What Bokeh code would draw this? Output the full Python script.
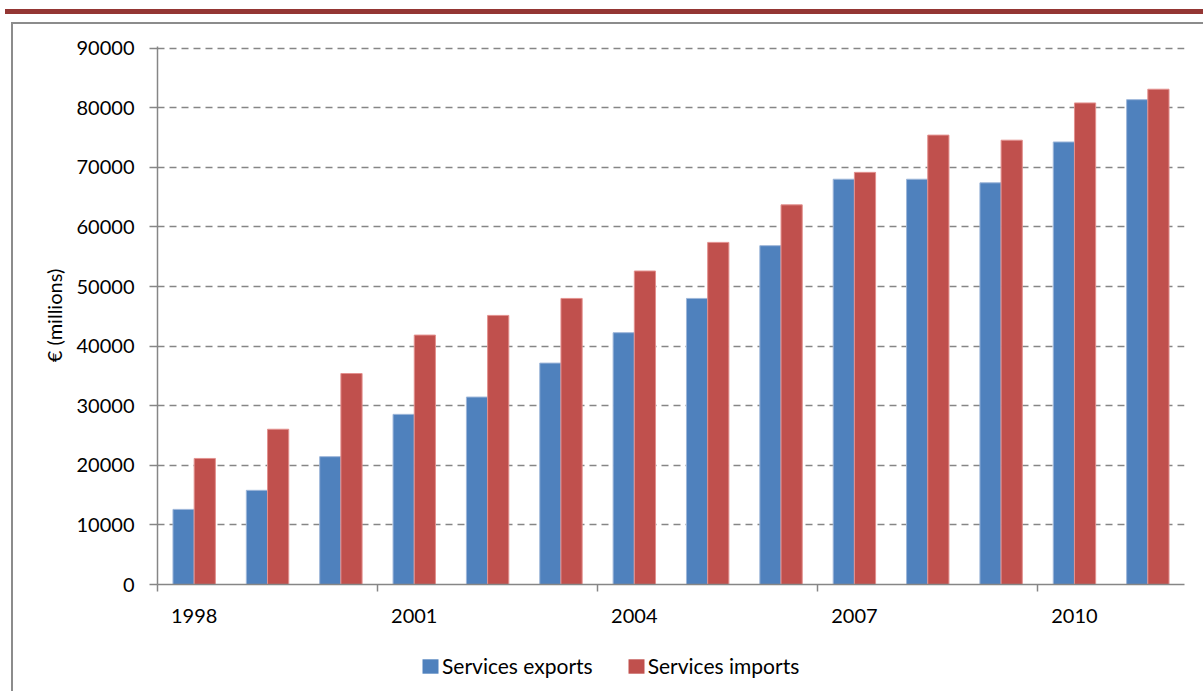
from bokeh.plotting import figure
from bokeh.models import (Range1d, FixedTicker, Legend, LegendItem, Div,
                          ColumnDataSource, NumeralTickFormatter)
from bokeh.layouts import column, row
from bokeh.embed import file_html
from bokeh.resources import INLINE

# ---- data ----
years = [1998, 1999, 2000, 2001, 2002, 2003, 2004, 2005, 2006, 2007, 2008, 2009, 2010, 2011]
exports = [12600, 15800, 21450, 28550, 31450, 37150, 42250, 48000, 56850, 68000, 68000, 67400, 74250, 81350]
imports = [21150, 26050, 35400, 41850, 45150, 48000, 52600, 57400, 63700, 69150, 75400, 74550, 80800, 83100]
series_names = ["Services exports", "Services imports"]
y_ticks = [0, 10000, 20000, 30000, 40000, 50000, 60000, 70000, 80000, 90000]
label_every = 3

FONT = "Lato"
GRAY = "#868686"
FRAME_GRAY = "#8c8c8c"
BAND = "#943634"
BLUE = "#4f81bd"
RED = "#c0504d"
BLUE_EDGE = "#9db6d9"
RED_EDGE = "#e3908e"

W, H = 1203, 691
TOP_H, LEFT_W, LEG_H = 24, 14, 51
FRAME_LEFT = 157

idx = list(range(len(years)))
bar_w = 0.289
src = ColumnDataSource(dict(
    xe=[i + 0.5 - bar_w / 2 for i in idx],
    xi=[i + 0.5 + bar_w / 2 for i in idx],
    exports=exports,
    imports=imports,
))

# ---- decorative top rule and page frame ----
top_div = Div(width=W, height=TOP_H, margin=0, text=(
    '<div style="height:9px;width:1px"></div>'
    f'<div style="margin-left:5px;height:5px;width:{W - 5}px;background:{BAND}"></div>'
    '<div style="height:8px;width:1px"></div>'
    f'<div style="margin-left:11px;height:2px;width:{W - 11}px;background:{FRAME_GRAY}"></div>'))
left_div = Div(width=LEFT_W, height=H - TOP_H, margin=0, text=(
    f'<div style="margin-left:11px;width:2px;height:{H - TOP_H}px;background:{FRAME_GRAY}"></div>'))

# ---- main chart ----
PW = W - LEFT_W
p = figure(width=PW, height=H - TOP_H - LEG_H, output_backend="svg", toolbar_location=None,
           x_range=Range1d(0, len(years)), y_range=Range1d(y_ticks[0], y_ticks[-1] * 1.003),
           min_border_left=FRAME_LEFT - LEFT_W, min_border_right=19, min_border_top=46 - TOP_H,
           min_border_bottom=(H - LEG_H) - 584)
p.outline_line_color = None
p.background_fill_color = "white"
p.border_fill_color = "white"

p.vbar(x="xe", top="exports", width=bar_w, source=src,
       fill_color=BLUE, line_color=BLUE_EDGE, line_width=1)
p.vbar(x="xi", top="imports", width=bar_w, source=src,
       fill_color=RED, line_color=RED_EDGE, line_width=1)

# x axis: labels at centres of every 3rd category, tick marks at category boundaries
lab_idx = [i for i in idx if i % label_every == 0]
p.xaxis.ticker = FixedTicker(ticks=[i + 0.5 for i in lab_idx], minor_ticks=[float(i) for i in lab_idx])
p.xaxis.major_label_overrides = {i + 0.5: str(years[i]) for i in lab_idx}
p.xaxis.major_tick_line_color = None
p.xaxis.major_tick_out = 0
p.xaxis.major_tick_in = 0
p.xaxis.minor_tick_line_color = GRAY
p.xaxis.minor_tick_line_width = 1.5
p.xaxis.minor_tick_out = 7
p.xaxis.minor_tick_in = 0
p.xaxis.axis_line_color = GRAY
p.xaxis.axis_line_width = 1.5
p.xaxis.major_label_standoff = 17
p.xaxis.major_label_text_font = FONT
p.xaxis.major_label_text_font_size = "20px"
p.xaxis.major_label_text_color = "black"
p.xgrid.grid_line_color = None

p.yaxis.ticker = FixedTicker(ticks=y_ticks, minor_ticks=[])
p.yaxis.formatter = NumeralTickFormatter(format="0")
p.yaxis.major_tick_line_color = GRAY
p.yaxis.major_tick_line_width = 1.5
p.yaxis.major_tick_out = 8
p.yaxis.major_tick_in = 0
p.yaxis.axis_line_color = GRAY
p.yaxis.axis_line_width = 1.5
p.yaxis.major_label_standoff = 15
p.yaxis.major_label_text_font = FONT
p.yaxis.major_label_text_font_size = "20px"
p.yaxis.major_label_text_color = "black"
p.yaxis.axis_label = "€ (millions)"
p.yaxis.axis_label_text_font = FONT
p.yaxis.axis_label_text_font_size = "20px"
p.yaxis.axis_label_text_font_style = "normal"
p.yaxis.axis_label_text_color = "black"
p.yaxis.axis_label_standoff = 8

p.ygrid.ticker = FixedTicker(ticks=y_ticks, minor_ticks=[])
p.ygrid.grid_line_color = GRAY
p.ygrid.grid_line_width = 1.5
p.ygrid.grid_line_dash = "7 5"

# ---- legend strip (same series, renderers hidden; only the legend shows) ----
lf = figure(width=PW, height=LEG_H, output_backend="svg", toolbar_location=None,
            x_axis_type=None, y_axis_type=None,
            x_range=Range1d(-20, -19), y_range=Range1d(0, 1),
            min_border=0, min_border_left=0, min_border_right=0,
            min_border_top=0, min_border_bottom=0)
lf.outline_line_color = None
lf.background_fill_color = "white"
lf.border_fill_color = "white"
le = lf.vbar(x="xe", top="exports", width=bar_w, source=src,
             fill_color=BLUE, line_color=None)
li = lf.vbar(x="xi", top="imports", width=bar_w, source=src,
             fill_color=RED, line_color=None)
le.visible = False
li.visible = False
# legend frame is aligned with the chart frame (starts at x=FRAME_LEFT)
legend = Legend(items=[LegendItem(label=series_names[0], renderers=[le]),
                       LegendItem(label=series_names[1], renderers=[li])],
                orientation="horizontal", location=(420 - FRAME_LEFT, 13),
                glyph_width=20, glyph_height=18, label_standoff=2, spacing=33,
                padding=0, margin=0, border_line_color=None, background_fill_alpha=0,
                label_text_font=FONT, label_text_font_size="21px", label_text_color="black")
lf.add_layout(legend, "center")

layout = column(top_div, row(left_div, column(p, lf, spacing=0), spacing=0), spacing=0)
open("out.html", "w").write(file_html(layout, INLINE))
